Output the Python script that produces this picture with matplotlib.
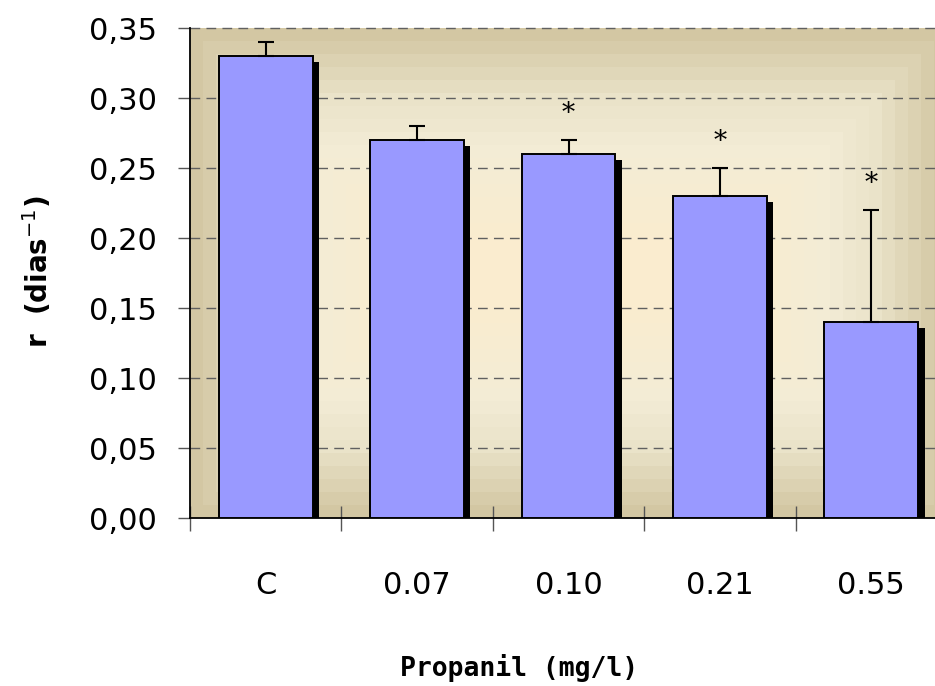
import matplotlib
matplotlib.use("Agg")
import matplotlib.pyplot as plt
import numpy as np

# Datos: tasa de crecimiento r por concentracion de propanil
categorias = ["C", "0.07", "0.10", "0.21", "0.55"]
r_media = [0.33, 0.27, 0.26, 0.23, 0.14]
r_error = [0.01, 0.01, 0.01, 0.02, 0.08]
significativo = [False, False, True, True, True]
y_ticks = [0.00, 0.05, 0.10, 0.15, 0.20, 0.25, 0.30, 0.35]


def fondo_degradado(ax, ancho_px=757, alto_px=490, banda=13):
    """Degradado rectangular por bandas: tostado en el borde, crema hacia el centro."""
    xs = np.arange(ancho_px) + 0.5
    ys = np.arange(alto_px) + 0.5
    X, Y = np.meshgrid(xs, ys)
    # distancia al borde mas cercano, en pixeles, cuantizada en bandas
    d = np.minimum(np.minimum(X, ancho_px - X), np.minimum(Y, alto_px - Y))
    d = np.floor(d / banda) * banda
    dist = [0, 65, 115, 200]
    colores = np.array([(211, 199, 163), (234, 227, 201),
                        (243, 236, 214), (250, 236, 207)]) / 255.0
    img = np.stack([np.interp(d, dist, colores[:, k]) for k in range(3)], axis=-1)
    ax.imshow(img, extent=[0, 1, 0, 1], transform=ax.transAxes,
              aspect="auto", zorder=0, interpolation="nearest")


def main():
    fig = plt.figure(figsize=(9.35, 6.86), dpi=100)
    # el area del grafico sigue un poco mas alla del borde derecho
    ax = fig.add_axes([190 / 935, 168 / 686, 757 / 935, 490 / 686])

    fondo_degradado(ax)

    x = np.arange(len(categorias)) + 0.5
    ancho = 0.62

    # lineas de division discontinuas
    for yt in y_ticks[1:]:
        ax.axhline(yt, color="#606060", lw=1.0, ls=(0, (7, 4.5)),
                   zorder=1, clip_on=False)

    # sombra negra desplazada
    dx = 0.042
    dy = 0.0043
    ax.bar(x + dx, np.array(r_media) - dy, width=ancho, color="black",
           edgecolor="none", zorder=2)
    ax.bar(x, r_media, width=ancho, color="#9999FF", edgecolor="black",
           linewidth=1.4, zorder=3)

    # barras de error solo hacia arriba
    ax.errorbar(x, r_media, yerr=[np.zeros(len(r_error)), r_error],
                fmt="none", ecolor="black", elinewidth=1.5, capsize=6,
                capthick=1.5, zorder=4)

    for xi, m, e, s in zip(x, r_media, r_error, significativo):
        if s:
            ax.annotate("*", (xi, m + e), xytext=(0, 19), textcoords="offset points",
                        ha="center", va="center", fontsize=19,
                        family="DejaVu Serif", zorder=5)

    ax.set_xlim(0, len(categorias))
    ax.set_ylim(0, 0.35)

    ax.set_yticks(y_ticks)
    ax.set_yticklabels([f"{v:.2f}".replace(".", ",") for v in y_ticks])
    ax.tick_params(axis="y", direction="out", length=9, width=1,
                   color="#555555", labelsize=22, pad=15)

    # marcas en los limites de cada categoria, etiquetas en el centro
    ax.set_xticks(np.arange(len(categorias) + 1))
    ax.set_xticklabels([])
    ax.tick_params(axis="x", which="major", direction="inout", length=18,
                   width=1, color="#555555")
    ax.set_xticks(x, minor=True)
    ax.set_xticklabels(categorias, minor=True)
    ax.tick_params(axis="x", which="minor", length=0, labelsize=22, pad=38)

    for lado in ["top", "right"]:
        ax.spines[lado].set_visible(False)
    ax.spines["left"].set_linewidth(1.3)
    ax.spines["bottom"].set_linewidth(1.3)

    fig.text(519 / 935, 10 / 686, "Propanil (mg/l)", ha="center", va="baseline",
             fontsize=19, fontweight="bold", family="DejaVu Sans Mono")
    fig.text(38 / 935, (686 - 272) / 686, r"r  (dias$^{-1}$)", rotation=90,
             ha="center", va="center", fontsize=20, fontweight="bold")

    fig.savefig("out.png", dpi=100)


if __name__ == "__main__":
    main()
